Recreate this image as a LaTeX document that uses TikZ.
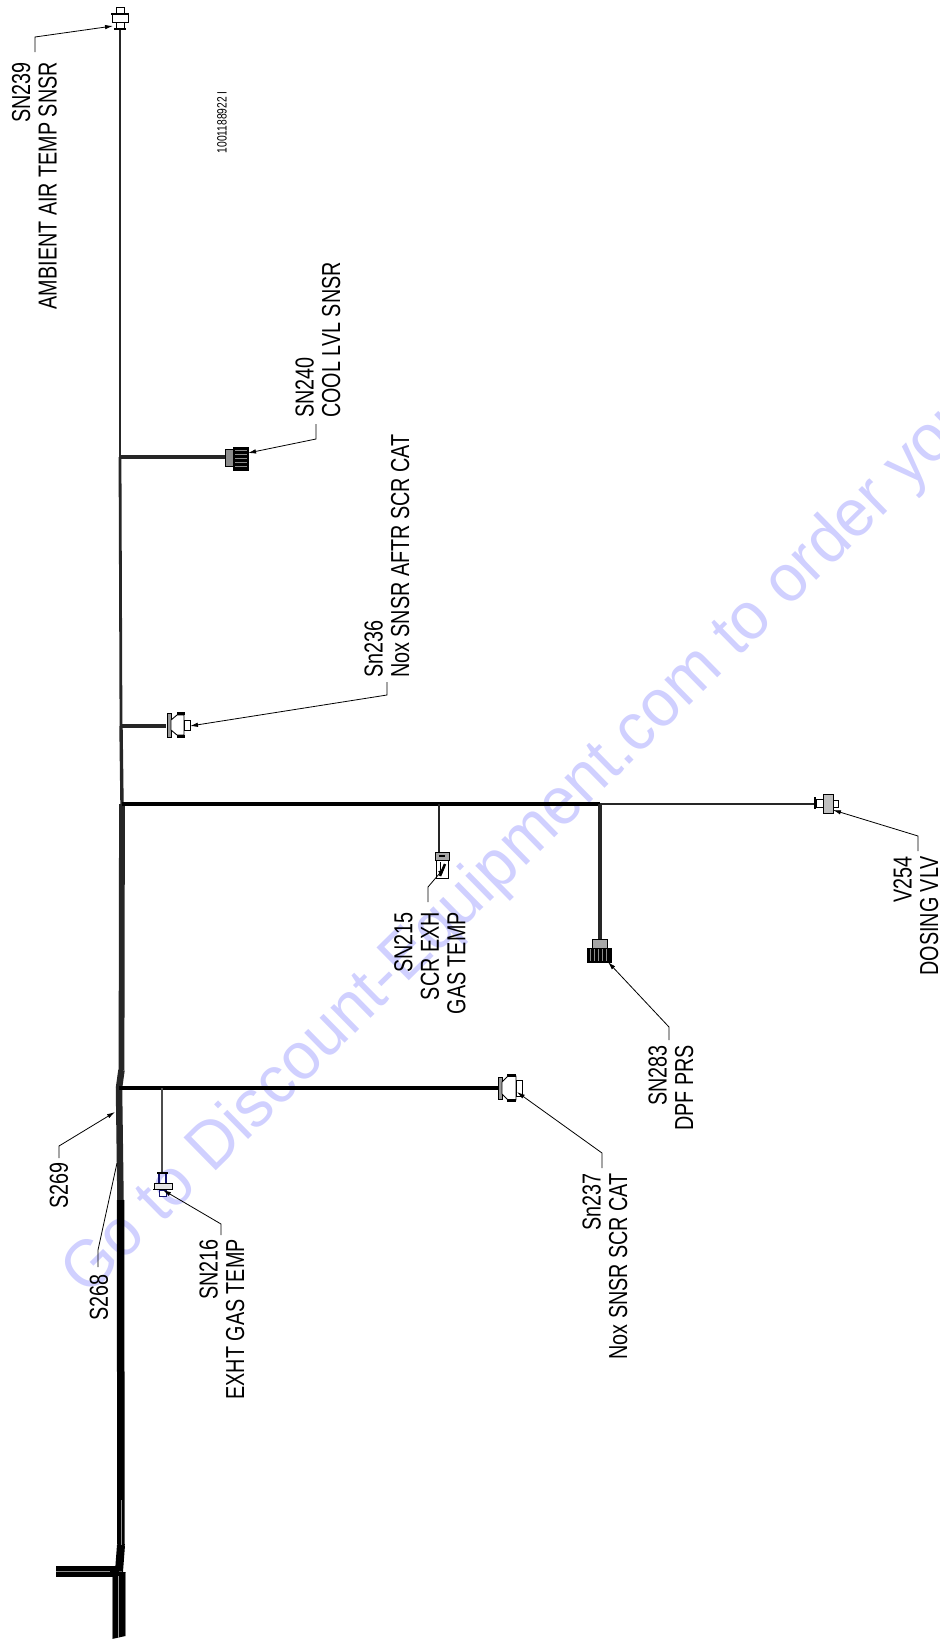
\documentclass[tikz,border=0pt]{standalone}
\usepackage{fontspec}
\usetikzlibrary{arrows.meta}
\newfontfamily\lblfont[FakeStretch=0.76]{Liberation Sans}
\newfontfamily\markfont[FakeStretch=0.96]{Liberation Sans}
\definecolor{markblue}{RGB}{208,208,255}
\definecolor{navy}{RGB}{20,20,110}
\tikzset{
  lbl/.style={font=\lblfont\fontsize{26}{26.5}\selectfont, rotate=90, inner sep=0pt, align=right, text=black},
  lblleft/.style={lbl, align=left},
  wire/.style={line width=#1, black!85},
  leader/.style={line width=0.8pt, black},
  tipped/.style={leader, -{Latex[length=8pt,width=4.5pt]}},
  conn/.style={inner sep=0pt, minimum width=#1},
  part/.style={line width=0.9pt, black, fill=white},
  dark/.style={line width=0.9pt, black, fill=black!75}
}
\begin{document}
\begin{tikzpicture}[x=1pt,y=-1pt]
  \useasboundingbox (0,0) rectangle (940,1639);
  \clip (0,0) rectangle (940,1639);

  \node[rotate=44.5, anchor=base west, inner sep=0pt, text=markblue, font=\markfont\fontsize{67}{67}\selectfont] (watermark) at (87,1297.5) {Go to Discount-Equipment.com to order your copy};

  \node[conn=18pt, minimum height=23pt] (sn239) at (120,18.5) {};
  \node[conn=23pt, minimum height=24pt] (sn240) at (236.5,458) {};
  \node[conn=24pt, minimum height=27pt] (sn236) at (178.5,725) {};
  \node[conn=24pt, minimum height=19pt] (v254) at (826,803.5) {};
  \node[conn=14pt, minimum height=26pt] (sn215) at (442,865) {};
  \node[conn=24pt, minimum height=24pt] (sn283) at (599,951) {};
  \node[conn=24pt, minimum height=26pt] (sn237) at (510,1088) {};
  \node[conn=20pt, minimum height=25pt] (sn216) at (162.5,1184.5) {};

  \coordinate (j240) at (120,457);
  \coordinate (j236) at (121,726);
  \coordinate (j254) at (122,804);
  \coordinate (j215) at (439,804);
  \coordinate (j283) at (600,804);
  \coordinate (j237) at (119,1088);
  \coordinate (j216) at (162,1088);
  \coordinate (jog) at (121.5,1070);
  \coordinate (low) at (119.5,1125);
  \coordinate (mid) at (120.5,1200);
  \coordinate (split) at (121,1545);
  \coordinate (trunkend) at (119,1571.5);
  \coordinate (stub) at (56,1571.5);

  \draw[wire=1.6pt] (sn239.south) -- (j240);
  \draw[wire=2.8pt] (j240) -- (j236);
  \draw[wire=3.4pt] (j236) -- (j254);
  \draw[wire=5.8pt] (j254) -- (jog);
  \draw[wire=6.5pt] (jog) -- (j237) -- (low) -- (mid);
  \draw[line width=7.5pt, black] (mid) -- (split);
  \draw[line width=8pt, black] (split) -- (trunkend);
  \draw[line width=10.5pt, black] (stub) -- (trunkend);
  \draw[line width=0.6pt, black!45] (stub) -- (110,1571.5);
  \fill[black] (112,1572) -- (125.5,1572) -- (125.5,1636) -- (112,1639) -- cycle;
  \draw[line width=1pt, black!50] (112.5,1577) -- (112.5,1639);
  \draw[line width=1pt, black!50] (125.5,1573) -- (125.5,1636);
  \draw[line width=0.4pt, black!40] (118,1576) -- (118,1638);
  \draw[line width=0.5pt, black!45] (121,1500) -- (121,1545);

  \draw[wire=3.5pt] (j240) -- (sn240.west |- j240);
  \draw[wire=3.5pt] (j236) -- (sn236.west |- j236);
  \draw[wire=4.5pt, black] (j254) -- (j283);
  \draw[wire=2pt] (j283) -- (v254.west |- j283);
  \draw[wire=2pt] (j215) -- (j215 |- sn215.north);
  \draw[wire=3.2pt] (j283) -- (j283 |- sn283.north);
  \draw[wire=4.5pt, black] (j237) -- (sn237.west |- j237);
  \draw[wire=1.8pt, black!70] (j216) -- (j216 |- sn216.north);

  % SN239
  \draw[part] (116,7) rectangle (124,14);
  \draw[part] (112,14) rectangle (128,22);
  \draw[line width=1.5pt] (111,14) -- (129,14);
  \draw[part] (116,22) rectangle (124,28);
  \draw[line width=2pt] (114,29) -- (126,29);
  % SN240
  \draw[part, fill=black!45] (225,449) rectangle (233,466);
  \draw[dark, fill=black] (233,447) rectangle (248,470);
  \foreach \ypos in {450,454,...,468} {\draw[line width=1pt, black!45] (235,\ypos) -- (247,\ypos);}
  % Sn236
  \draw[part, fill=black!40] (167,713) rectangle (171,737);
  \draw[part] (171,720) -- (177,715) -- (184,715) -- (184,735) -- (177,735) -- (171,730) -- cycle;
  \draw[part] (184,720) rectangle (190,730);
  \draw[line width=2.5pt] (177,713.5) -- (185,713.5);
  \draw[line width=2.5pt] (177,736.5) -- (185,736.5);
  % V254
  \draw[line width=2pt] (815,797) -- (815,809);
  \draw[part] (816,799) rectangle (823,807);
  \draw[part, fill=black!25] (823,794) rectangle (833,813);
  \draw[part] (833,800) rectangle (838,807);
  % SN215
  \draw[part, fill=black!35] (435,852) rectangle (449,860);
  \draw[part] (436,860) rectangle (448,878);
  \draw[line width=2.5pt] (440,876) -- (445,864);
  \draw[line width=1.5pt] (439,856) -- (445,856);
  \draw[line width=1pt] (440,862) -- (440,870);
  % SN283
  \draw[part, fill=black!35] (592,939) rectangle (607,948);
  \draw[dark, fill=black] (587,948) rectangle (611,962);
  \foreach \xpos in {590,594,...,608} {\draw[line width=1pt, black!45] (\xpos,949) -- (\xpos,961);}
  % Sn237
  \draw[part, fill=black!40] (498,1077) rectangle (502,1099);
  \draw[part] (502,1082) -- (508,1076) -- (516,1076) -- (516,1100) -- (508,1100) -- (502,1094) -- cycle;
  \draw[part] (516,1080) rectangle (522,1096);
  \draw[line width=2.5pt] (507,1075.5) -- (516,1075.5);
  \draw[line width=2.5pt] (507,1100.5) -- (516,1100.5);
  % SN216
  \draw[line width=2pt] (157,1173) -- (168,1173);
  \draw[line width=1.5pt, navy] (159,1174) -- (159,1183);
  \draw[line width=1.5pt, navy] (166,1174) -- (166,1183);
  \draw[part, fill=black!10] (154,1183) rectangle (172,1189);
  \draw[line width=1.5pt] (153,1189.5) -- (173,1189.5);
  \draw[part, draw=navy] (159,1190) rectangle (166,1196);

  \node[lbl, anchor=east] (lblsn239) at (34.5,62) {SN239\\AMBIENT AIR TEMP SNSR};
  \node[lblleft, anchor=west] (lblsn240) at (318,418) {SN240\\COOL LVL SNSR};
  \node[lblleft, anchor=west] (lblsn236) at (387,678) {Sn236\\Nox SNSR AFTR SCR CAT};
  \node[lbl, anchor=east] (lblsn215) at (430,912) {SN215\\SCR EXH\\GAS TEMP};
  \node[lbl, anchor=east] (lblv254) at (916,856) {V254\\DOSING VLV};
  \node[lbl, anchor=east] (lblsn283) at (671,1045) {SN283\\DPF PRS};
  \node[lbl, anchor=east] (lblsn237) at (605,1173) {Sn237\\Nox SNSR SCR CAT};
  \node[lbl, anchor=east] (lblsn216) at (222,1239) {SN216\\EXHT GAS TEMP};
  \node[lbl, anchor=east] (lbls269) at (59,1162) {S269};
  \node[lbl, anchor=east] (lbls268) at (99,1274) {S268};
  \node[rotate=90, inner sep=0pt, font=\lblfont\fontsize{13.5}{14}\selectfont, anchor=east] (partno) at (222,91) {1001188922 I};

  \coordinate (cn239) at (35,37);    \coordinate (tp239) at (113,26);
  \coordinate (cn240) at (316,439);  \coordinate (tp240) at (248,453);
  \coordinate (cn236) at (387,695);  \coordinate (tp236) at (190,726);
  \coordinate (cn215) at (428,887);  \coordinate (tp215) at (445,867);
  \coordinate (cn254) at (918,836);  \coordinate (tp254) at (833,810);
  \coordinate (cn283) at (669,1027); \coordinate (tp283) at (608,962);
  \coordinate (cn237) at (602,1153); \coordinate (tp237) at (517,1092);
  \coordinate (cn216) at (221,1224); \coordinate (tp216) at (163,1190);
  \coordinate (cn269) at (59,1146);  \coordinate (tp269) at (115,1112);
  \coordinate (cn268) at (98,1250);  \coordinate (tp268) at (117,1163);

  \draw[tipped] (35,52) -- (cn239) -- (tp239);
  \draw[tipped] (316,424) -- (cn240) -- (tp240);
  \draw[tipped] (387,682) -- (cn236) -- (tp236);
  \draw[tipped] (428,902) -- (cn215) -- (tp215);
  \draw[tipped] (918,851) -- (cn254) -- (tp254);
  \draw[tipped] (669,1040) -- (cn283) -- (tp283);
  \draw[tipped] (602,1168) -- (cn237) -- (tp237);
  \draw[tipped] (221,1235) -- (cn216) -- (tp216);
  \draw[tipped] (59,1158) -- (cn269) -- (tp269);
  \draw[leader] (98,1267) -- (cn268) -- (tp268);
\end{tikzpicture}
\end{document}
